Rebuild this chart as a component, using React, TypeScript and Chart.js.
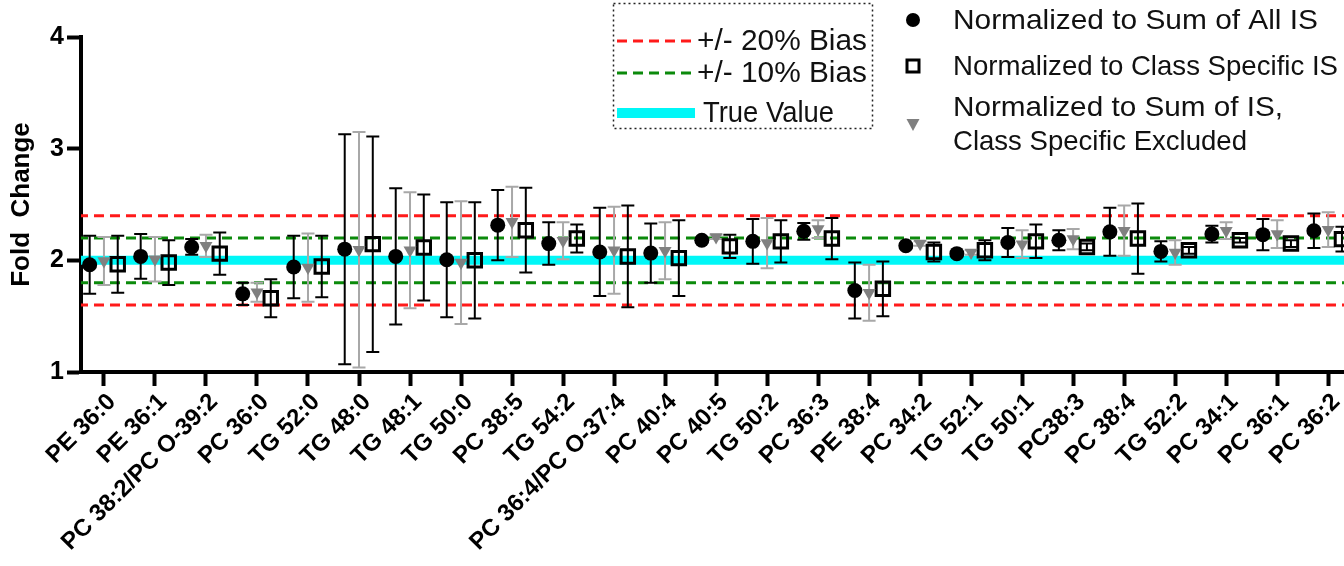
import React, { useEffect, useRef } from 'react';
import { Chart, registerables } from 'chart.js';

Chart.register(...registerables);

const categories = [
  'PE 36:0', 'PE 36:1', 'PC 38:2/PC O-39:2', 'PC 36:0', 'TG 52:0', 'TG 48:0', 'TG 48:1',
  'TG 50:0', 'PC 38:5', 'TG 54:2', 'PC 36:4/PC O-37:4', 'PC 40:4', 'PC 40:5', 'TG 50:2',
  'PC 36:3', 'PE 38:4', 'PC 34:2', 'TG 52:1', 'TG 50:1', 'PC38:3', 'PC 38:4', 'TG 52:2',
  'PC 34:1', 'PC 36:1', 'PC 36:2',
];

// Normalized to Sum of All IS (filled circle)
const allISMean = [1.96, 2.035, 2.12, 1.70, 1.94, 2.10, 2.035, 2.005, 2.315, 2.15, 2.075, 2.065, 2.18, 2.17, 2.26, 1.73, 2.13, 2.06, 2.16, 2.18, 2.255, 2.08, 2.235, 2.23, 2.265];
const allISSd = [0.26, 0.20, 0.07, 0.10, 0.28, 1.03, 0.61, 0.515, 0.315, 0.19, 0.395, 0.265, 0.02, 0.20, 0.075, 0.25, 0.02, 0.015, 0.13, 0.09, 0.215, 0.09, 0.075, 0.14, 0.155];

// Normalized to Sum of IS, Class Specific Excluded (grey triangle)
const exclMean = [1.995, 2.01, 2.13, 1.715, 1.935, 2.095, 2.09, 1.98, 2.345, 2.175, 2.09, 2.085, 2.21, 2.155, 2.28, 1.71, 2.15, 2.07, 2.145, 2.19, 2.265, 2.07, 2.265, 2.235, 2.275];
const exclSd = [0.215, 0.20, 0.10, 0.085, 0.305, 1.055, 0.52, 0.55, 0.315, 0.165, 0.39, 0.255, 0.02, 0.225, 0.08, 0.25, 0.02, 0.02, 0.125, 0.09, 0.225, 0.11, 0.075, 0.125, 0.155];

// Normalized to Class Specific IS (open square)
const classMean = [1.965, 1.98, 2.06, 1.66, 1.945, 2.145, 2.115, 2.00, 2.27, 2.195, 2.035, 2.02, 2.125, 2.17, 2.195, 1.745, 2.075, 2.09, 2.17, 2.12, 2.195, 2.09, 2.18, 2.15, 2.19];
const classSd = [0.255, 0.20, 0.19, 0.17, 0.275, 0.965, 0.475, 0.52, 0.38, 0.125, 0.455, 0.34, 0.105, 0.19, 0.185, 0.245, 0.085, 0.09, 0.15, 0.03, 0.315, 0.03, 0.02, 0.03, 0.11];

const trueValue = 2.0;
const bias20 = [1.6, 2.4];
const bias10 = [1.8, 2.2];
const yTicks = [1, 2, 3, 4];

const RED = '#FF1A1A';
const GREEN = '#0B8A0B';
const CYAN = '#00F7F7';
const TRI = '#808080';
const TRI_BAR = '#A8A8A8';
const FONT = '"Liberation Sans", Arial, Helvetica, sans-serif';

const X_MIN = -0.45;
const X_MAX = 24.31;
const OFF_CIRCLE = -0.28;
const OFF_TRI = 0;
const OFF_SQUARE = 0.27;

export default function App() {
  const ref = useRef<HTMLCanvasElement>(null);

  useEffect(() => {
    const canvas = ref.current;
    if (!canvas) return;

    const series = [
      { mean: allISMean, sd: allISSd, off: OFF_CIRCLE, color: '#000000' },
      { mean: exclMean, sd: exclSd, off: OFF_TRI, color: TRI_BAR },
      { mean: classMean, sd: classSd, off: OFF_SQUARE, color: '#000000' },
    ];

    const errorBars = {
      id: 'errorBars',
      beforeDatasetDraw(chart: any, args: any) {
        if (args.index !== 2) return;
        const ctx = chart.ctx;
        const xs = chart.scales.x;
        const ys = chart.scales.y;
        ctx.save();
        ctx.lineWidth = 2;
        for (const s of series) {
          ctx.strokeStyle = s.color;
          s.mean.forEach((m: number, i: number) => {
            const x = xs.getPixelForValue(i + s.off);
            const yt = ys.getPixelForValue(m + s.sd[i]);
            const yb = ys.getPixelForValue(m - s.sd[i]);
            ctx.beginPath();
            ctx.moveTo(x, yt);
            ctx.lineTo(x, yb);
            ctx.moveTo(x - 6.5, yt);
            ctx.lineTo(x + 6.5, yt);
            ctx.moveTo(x - 6.5, yb);
            ctx.lineTo(x + 6.5, yb);
            ctx.stroke();
          });
        }
        ctx.restore();
      },
    };

    const fitText = (ctx: CanvasRenderingContext2D, text: string, x: number, y: number, w: number) => {
      const m = ctx.measureText(text).width;
      ctx.save();
      ctx.translate(x, y);
      ctx.scale(w / m, 1);
      ctx.fillText(text, 0, 0);
      ctx.restore();
    };

    const legendBox = {
      id: 'legendBox',
      afterDraw(chart: any) {
        const ctx = chart.ctx;
        ctx.save();
        // dotted box
        ctx.setLineDash([2, 3]);
        ctx.lineWidth = 1.5;
        ctx.strokeStyle = '#222';
        ctx.strokeRect(613.5, 3.5, 259, 125);
        // bias lines
        ctx.setLineDash([10, 6]);
        ctx.lineWidth = 3;
        ctx.strokeStyle = RED;
        ctx.beginPath(); ctx.moveTo(617, 41); ctx.lineTo(691, 41); ctx.stroke();
        ctx.strokeStyle = GREEN;
        ctx.beginPath(); ctx.moveTo(617, 73); ctx.lineTo(691, 73); ctx.stroke();
        ctx.setLineDash([]);
        ctx.lineWidth = 10;
        ctx.strokeStyle = CYAN;
        ctx.beginPath(); ctx.moveTo(617, 113); ctx.lineTo(695, 113); ctx.stroke();

        ctx.fillStyle = '#111';
        ctx.textBaseline = 'middle';
        ctx.textAlign = 'left';
        ctx.font = `29px ${FONT}`;
        fitText(ctx, '+/- 20% Bias', 697, 42, 170);
        fitText(ctx, '+/- 10% Bias', 697, 74, 170);
        fitText(ctx, 'True Value', 703, 114, 131);

        ctx.font = `28.5px ${FONT}`;
        fitText(ctx, 'Normalized to Sum of All IS', 953, 21, 365);
        fitText(ctx, 'Normalized to Class Specific IS', 953, 67, 385);
        fitText(ctx, 'Normalized to Sum of IS,', 953, 108, 330);
        fitText(ctx, 'Class Specific Excluded', 953, 142, 294);

        // markers
        ctx.fillStyle = '#000';
        ctx.beginPath(); ctx.arc(913, 20, 7, 0, Math.PI * 2); ctx.fill();
        ctx.lineWidth = 3;
        ctx.strokeStyle = '#000';
        ctx.strokeRect(907, 60, 12, 12);
        ctx.fillStyle = TRI;
        ctx.beginPath();
        ctx.moveTo(906.5, 119); ctx.lineTo(919.5, 119); ctx.lineTo(913, 131);
        ctx.closePath(); ctx.fill();
        ctx.restore();
      },
    };

    const hLine = (y: number, color: string, width: number, dash: number[]) => ({
      type: 'scatter' as const,
      data: [{ x: X_MIN - 1, y }, { x: X_MAX + 1, y }],
      showLine: true,
      borderColor: color,
      borderWidth: width,
      borderDash: dash,
      pointRadius: 0,
      clip: 0,
    });

    const chart = new Chart(canvas, {
      type: 'scatter',
      data: {
        datasets: [
          {
            data: allISMean.map((y, i) => ({ x: i + OFF_CIRCLE, y })),
            pointStyle: 'circle',
            pointRadius: 7.5,
            backgroundColor: '#000',
            borderColor: '#000',
            borderWidth: 0,
            clip: false,
          } as any,
          {
            data: exclMean.map((y, i) => ({ x: i + OFF_TRI, y })),
            pointStyle: 'triangle',
            rotation: 180,
            pointRadius: 7.5,
            backgroundColor: TRI,
            borderColor: TRI,
            borderWidth: 0,
            clip: false,
          },
          {
            data: classMean.map((y, i) => ({ x: i + OFF_SQUARE, y })),
            pointStyle: 'rect',
            pointRadius: 9.5,
            backgroundColor: 'rgba(0,0,0,0)',
            borderColor: '#000',
            borderWidth: 3,
            clip: false,
          },
          hLine(bias20[1], RED, 3, [10, 6]),
          hLine(bias20[0], RED, 3, [10, 6]),
          hLine(bias10[1], GREEN, 3, [10, 6]),
          hLine(bias10[0], GREEN, 3, [10, 6]),
          hLine(trueValue, CYAN, 9, []),
        ],
      },
      options: {
        animation: false,
        responsive: true,
        maintainAspectRatio: false,
        layout: { autoPadding: false, padding: { top: 37, right: 0, left: 0, bottom: 0 } },
        plugins: { legend: { display: false }, tooltip: { enabled: false } },
        scales: {
          x: {
            type: 'linear',
            min: X_MIN,
            max: X_MAX,
            afterBuildTicks: (scale: any) => {
              scale.ticks = categories.map((_, i) => ({ value: i }));
            },
            afterFit: (scale: any) => {
              scale.height = 194;
              scale.paddingLeft = 0;
              scale.paddingRight = 0;
            },
            ticks: {
              autoSkip: false,
              includeBounds: false,
              minRotation: 45,
              maxRotation: 45,
              padding: 2,
              labelOffset: 8,
              color: '#000',
              font: { family: FONT, size: 24, weight: 'bold' },
              callback: (v: any) => categories[v as number] ?? '',
            },
            grid: {
              drawOnChartArea: false,
              drawTicks: true,
              tickLength: 14,
              tickWidth: 4,
              tickColor: '#000',
              color: '#000',
            },
            border: { display: true, color: '#000', width: 4 },
          },
          y: {
            type: 'linear',
            min: 1,
            max: 4,
            afterBuildTicks: (scale: any) => {
              scale.ticks = yTicks.map((v) => ({ value: v }));
            },
            afterFit: (scale: any) => {
              scale.width = 81;
            },
            ticks: {
              padding: 3,
              color: '#000',
              font: { family: FONT, size: 25, weight: 'bold' },
            },
            grid: {
              drawOnChartArea: false,
              drawTicks: true,
              tickLength: 14,
              tickWidth: 4,
              tickColor: '#000',
              color: '#000',
            },
            border: { display: true, color: '#000', width: 4 },
            title: {
              display: true,
              text: 'Fold  Change',
              color: '#000',
              font: { family: FONT, size: 26, weight: 'bold' },
              padding: { top: 6, bottom: 0 },
            },
          },
        },
      },
      plugins: [errorBars, legendBox],
    } as any);

    return () => chart.destroy();
  }, []);

  return (
    <div style={{ position: 'fixed', left: 0, top: 0, width: 1344, height: 566, background: '#fff' }}>
      <canvas ref={ref} />
    </div>
  );
}
